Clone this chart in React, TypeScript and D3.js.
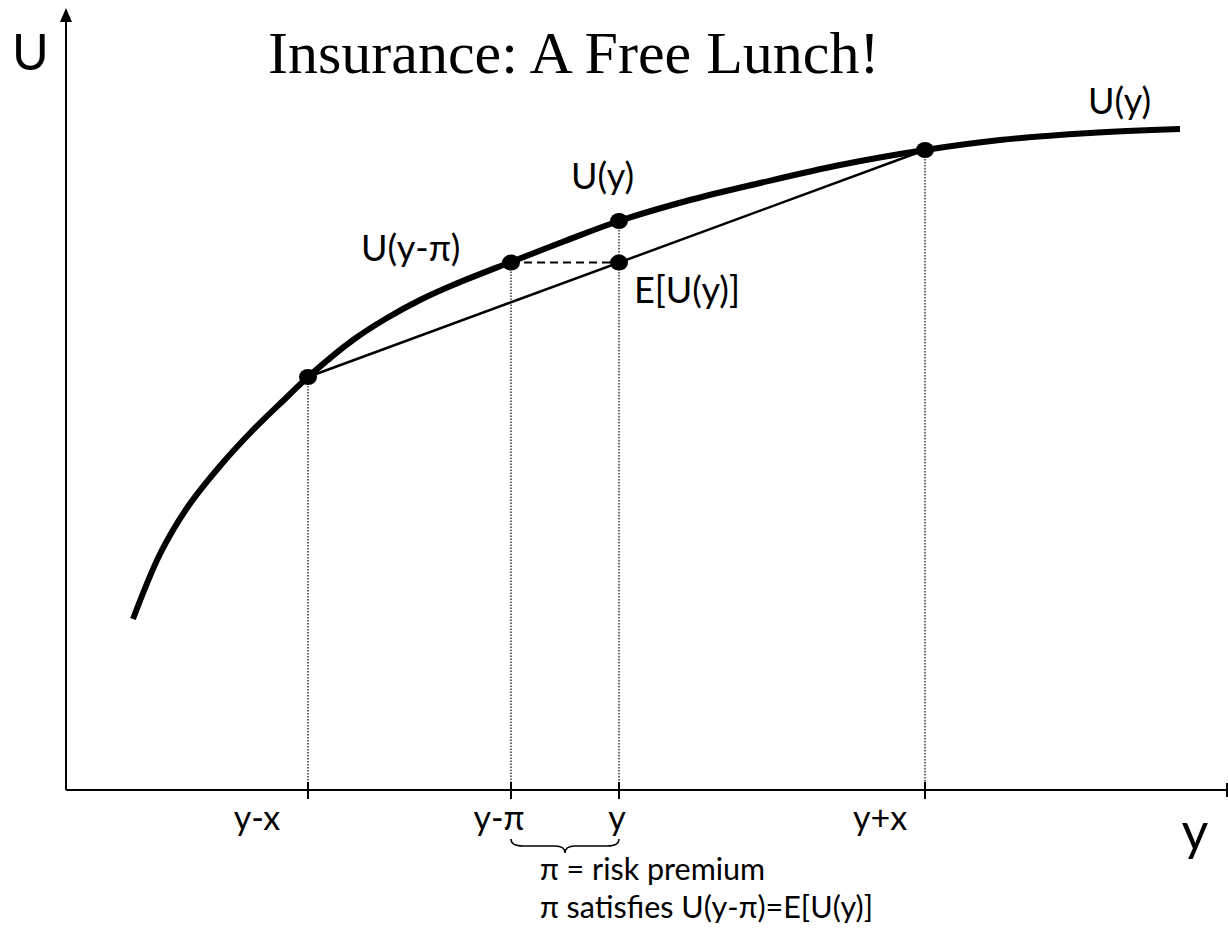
import React, { useEffect, useRef } from 'react';
import * as d3 from 'd3';

// utility curve (wealth, utility)
const curveWealth = [6.7, 9.4, 12.1, 15.4, 18.7, 22.1, 24.2, 28.7, 32.1, 35.4, 38.7, 44.5, 49.9, 55.3, 62.4, 69.4, 77.4, 85.9, 93.4, 102.4, 111.4];
const curveUtility = [17.1, 23.6, 28.2, 32.4, 36.0, 39.3, 41.3, 45.0, 47.2, 49.0, 50.5, 52.8, 54.9, 56.9, 59.0, 60.7, 62.5, 64.0, 65.0, 65.7, 66.1];

// marked incomes on the x axis
const tickWealth = [24.2, 44.5, 55.3, 85.9];
const tickLabels = ['y-x', 'y-π', 'y', 'y+x'];

const W = 1228;
const H = 943;

const App = () => {
  const svgRef = useRef<SVGSVGElement>(null);

  useEffect(() => {
    const svg = d3.select(svgRef.current);
    svg.selectAll('*').remove();

    const x = d3.scaleLinear().domain([0, 116.2]).range([66, 1228]);
    const y = d3.scaleLinear().domain([0, 78]).range([790, 10]);

    const pts: [number, number][] = curveWealth.map((w, i) => [w, curveUtility[i]]);
    const uAt = (w: number) => {
      const i = d3.bisectLeft(curveWealth, w);
      if (curveWealth[i] === w) return curveUtility[i];
      const t = (w - curveWealth[i - 1]) / (curveWealth[i] - curveWealth[i - 1]);
      return curveUtility[i - 1] + t * (curveUtility[i] - curveUtility[i - 1]);
    };

    const [wLow, wPi, wMid, wHigh] = tickWealth;
    const uLow = uAt(wLow);
    const uHigh = uAt(wHigh);
    const uMid = uAt(wMid);
    // expected utility sits on the chord
    const eu = uLow + (uHigh - uLow) * (wMid - wLow) / (wHigh - wLow);

    const sans = 'Lato, "Open Sans", sans-serif';

    // axes
    svg.append('line')
      .attr('x1', x(0)).attr('x2', x(0))
      .attr('y1', y(0)).attr('y2', 20)
      .attr('stroke', '#000').attr('stroke-width', 2);
    svg.append('path')
      .attr('d', `M${x(0)},8 L${x(0) - 6},22 L${x(0) + 6},22 Z`)
      .attr('fill', '#000');
    svg.append('line')
      .attr('x1', x(0)).attr('x2', W)
      .attr('y1', y(0)).attr('y2', y(0))
      .attr('stroke', '#000').attr('stroke-width', 2);
    svg.append('line')
      .attr('x1', W - 1).attr('x2', W - 1)
      .attr('y1', y(0) - 7).attr('y2', y(0) + 7)
      .attr('stroke', '#000').attr('stroke-width', 2);

    // dotted drop lines + ticks
    const drops = [
      { w: wLow, u: uLow },
      { w: wPi, u: eu },
      { w: wMid, u: uMid },
      { w: wHigh, u: uHigh },
    ];
    drops.forEach(d => {
      svg.append('line')
        .attr('x1', x(d.w)).attr('x2', x(d.w))
        .attr('y1', y(d.u)).attr('y2', y(0))
        .attr('stroke', '#000').attr('stroke-width', 1.2)
        .attr('stroke-dasharray', '1.5,1.5');
      svg.append('line')
        .attr('x1', x(d.w)).attr('x2', x(d.w))
        .attr('y1', y(0) - 8).attr('y2', y(0) + 9)
        .attr('stroke', '#000').attr('stroke-width', 2);
    });

    // chord
    svg.append('line')
      .attr('x1', x(wLow)).attr('y1', y(uLow))
      .attr('x2', x(wHigh)).attr('y2', y(uHigh))
      .attr('stroke', '#000').attr('stroke-width', 2.5);

    // dashed certainty-equivalent line
    svg.append('line')
      .attr('x1', x(wPi)).attr('y1', y(eu))
      .attr('x2', x(wMid)).attr('y2', y(eu))
      .attr('stroke', '#000').attr('stroke-width', 2)
      .attr('stroke-dasharray', '8,5');

    // utility curve
    const line = d3.line<[number, number]>()
      .x(d => x(d[0]))
      .y(d => y(d[1]))
      .curve(d3.curveCatmullRom.alpha(0.5));
    svg.append('path')
      .datum(pts)
      .attr('d', line)
      .attr('fill', 'none')
      .attr('stroke', '#000')
      .attr('stroke-width', 6);

    // dots
    [[wLow, uLow], [wPi, eu], [wMid, uMid], [wMid, eu], [wHigh, uHigh]].forEach(p => {
      svg.append('ellipse')
        .attr('cx', x(p[0])).attr('cy', y(p[1]))
        .attr('rx', 9).attr('ry', 8)
        .attr('fill', '#000');
    });

    // tick labels (set off to the left like the original)
    const labelDx = [-51, -12, -2, -45];
    tickLabels.forEach((t, i) => {
      svg.append('text')
        .attr('x', x(tickWealth[i]) + labelDx[i])
        .attr('y', 830)
        .attr('text-anchor', 'middle')
        .style('font-family', sans)
        .style('font-size', '34px')
        .text(t);
    });

    // brace under y-π .. y
    const bx1 = x(wPi), bx2 = x(wMid), bm = (bx1 + bx2) / 2, by = 839;
    svg.append('path')
      .attr('d', `M${bx1},${by} Q${bx1},${by + 7} ${bx1 + 12},${by + 7} L${bm - 10},${by + 7} Q${bm},${by + 7} ${bm},${by + 14} Q${bm},${by + 7} ${bm + 10},${by + 7} L${bx2 - 12},${by + 7} Q${bx2},${by + 7} ${bx2},${by}`)
      .attr('fill', 'none').attr('stroke', '#000').attr('stroke-width', 1.5);

    // annotations
    const txt = (s: string, tx: number, ty: number, size: number, anchor = 'start', family = sans) =>
      svg.append('text')
        .attr('x', tx).attr('y', ty)
        .attr('text-anchor', anchor)
        .style('font-family', family)
        .style('font-size', `${size}px`)
        .text(s);

    txt('U', 12, 70, 50);
    txt('Insurance: A Free Lunch!', 268, 73, 60, 'start', '"Liberation Serif", "Times New Roman", serif');
    txt('U(y)', 1088, 114, 36);
    txt('U(y)', x(wMid) - 48, y(uMid) - 32, 36);
    txt('U(y-π)', x(wPi) - 150, y(eu) - 2, 36);
    txt('E[U(y)]', x(wMid) + 15, y(eu) + 40, 36);
    txt('y', 1195, 850, 52, 'middle');
    txt('π = risk premium', 540, 880, 30.5);
    txt('π satisfies U(y-π)=E[U(y)]', 540, 918, 30.5);
  }, []);

  return (
    <div style={{ position: 'absolute', left: 0, top: 0 }}>
      <svg ref={svgRef} width={W} height={H} style={{ display: 'block', background: '#fff' }}></svg>
    </div>
  );
};

export default App;
